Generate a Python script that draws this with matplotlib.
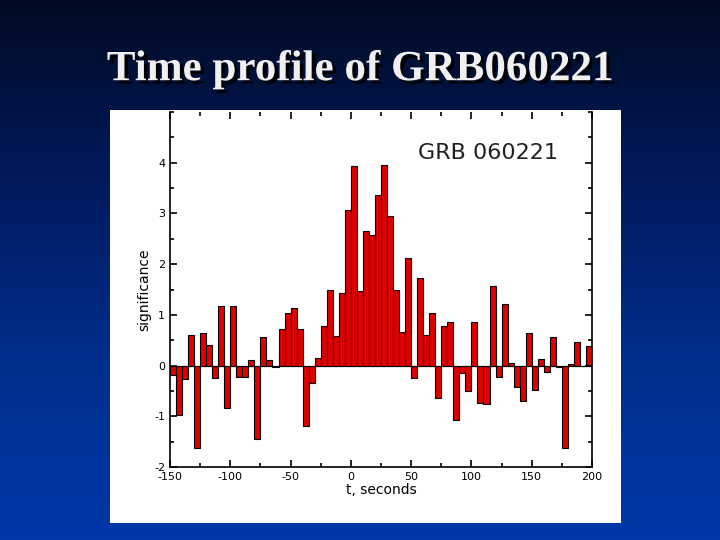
import numpy as np
import matplotlib
matplotlib.use("Agg")
import matplotlib.pyplot as plt
from matplotlib.colors import LinearSegmentedColormap
from matplotlib import patheffects as pe

plt.rcParams["axes.unicode_minus"] = False

t_start = -150
bin_width = 5
significance = [-0.18, -0.97, -0.26, 0.61, -1.62, 0.65, 0.40, -0.25, 1.18, -0.84,
                1.18, -0.23, -0.23, 0.11, -1.44, 0.57, 0.11, -0.02, 0.73, 1.04,
                1.14, 0.73, -1.19, -0.35, 0.15, 0.79, 1.50, 0.59, 1.44, 3.06,
                3.93, 1.48, 2.66, 2.58, 3.36, 3.95, 2.95, 1.50, 0.67, 2.12,
                -0.25, 1.73, 0.61, 1.03, -0.64, 0.78, 0.86, -1.08, -0.15, -0.50,
                0.86, -0.74, -0.76, 1.56, -0.23, 1.22, 0.05, -0.42, -0.70, 0.65,
                -0.48, 0.12, -0.13, 0.57, -0.02, -1.63, 0.03, 0.46, 0.0, 0.38]
x_edges = [t_start + bin_width * i for i in range(len(significance))]
x_ticks = [-150, -100, -50, 0, 50, 100, 150, 200]
y_ticks = [-2, -1, 0, 1, 2, 3, 4]

fig = plt.figure(figsize=(7.2, 5.4), dpi=100)
bg = fig.add_axes([0, 0, 1, 1])
cmap = LinearSegmentedColormap.from_list("bg", ["#0038a8", "#002e8c", "#001a5c", "#000a22"])
bg.imshow(np.linspace(0, 1, 256).reshape(-1, 1), aspect="auto", cmap=cmap,
          extent=[0, 1, 0, 1], origin="lower")
bg.set_xlim(0, 1); bg.set_ylim(0, 1); bg.axis("off")

fig.text(0.5, 0.87, "Time profile of GRB060221", ha="center", va="center",
         fontsize=31, fontweight="bold", color="#f0f0f0", family="Liberation Serif",
         path_effects=[pe.withSimplePatchShadow(offset=(2.5, -2.5), shadow_rgbFace="black", alpha=0.9)])

panel = fig.add_axes([110/720, 1-523/540, 511/720, 413/540])
panel.set_facecolor("white"); panel.set_xticks([]); panel.set_yticks([])
for s in panel.spines.values():
    s.set_visible(False)

ax = fig.add_axes([170/720, 1-467/540, 422/720, 355/540])
ax.bar(x_edges, significance, width=bin_width, align="edge", color="#e00000",
       edgecolor="black", linewidth=0.8)
ax.axhline(0, color="black", linewidth=0.8)
ax.set_xlim(-150, 200)
ax.set_ylim(-2, 5)
ax.set_xticks(x_ticks)
ax.set_yticks(y_ticks)
ax.set_xticks(np.arange(-150, 201, 25), minor=True)
ax.set_yticks(np.arange(-2, 5.01, 0.5), minor=True)
ax.tick_params(which="both", direction="in", top=True, right=True, labelsize=8, width=1.2)
ax.tick_params(which="major", length=5)
ax.tick_params(which="minor", length=3)
ax.set_xlabel("t, seconds", fontsize=10, labelpad=1)
ax.set_ylabel("significance", fontsize=10, labelpad=2)
for s in ax.spines.values():
    s.set_linewidth(1.2)
ax.spines["top"].set_visible(False)
ax.text(0.92, 0.885, "GRB 060221", transform=ax.transAxes, ha="right", va="center",
        fontsize=16, color="#222222", family="DejaVu Sans")

fig.savefig("out.png", dpi=100)
